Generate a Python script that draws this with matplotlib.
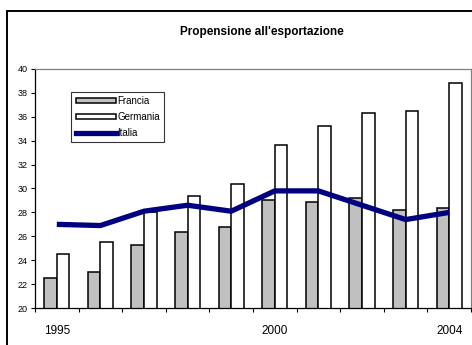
import numpy as np
import matplotlib
matplotlib.use("Agg")
import matplotlib.pyplot as plt
from matplotlib.patches import Patch, Rectangle
from matplotlib.lines import Line2D

# ==================================
# DATA
# ==================================

anni = [1995, 1996, 1997, 1998, 1999, 2000, 2001, 2002, 2003, 2004]
etichette = ["1995", "", "", "", "", "2000", "", "", "", "2004"]

francia = [22.5, 23.0, 25.3, 26.4, 26.8, 29.0, 28.9, 29.2, 28.2, 28.4]
germania = [24.5, 25.5, 28.0, 29.4, 30.4, 33.6, 35.2, 36.3, 36.5, 38.8]
italia = [27.0, 26.9, 28.1, 28.6, 28.1, 29.8, 29.8, 28.6, 27.4, 28.0]

# ==================================
# FIGURE
# ==================================

plt.rcParams['font.family'] = ['Liberation Sans', 'DejaVu Sans']

fig = plt.figure(figsize=(4.72, 3.45), dpi=100)

# outer chart frame
fig.patches.append(Rectangle((7 / 472, -0.1), 1.0, 1 - 11 / 345 + 0.1,
                             transform=fig.transFigure, fill=False,
                             edgecolor='black', linewidth=1.4))

ax = fig.add_axes([35 / 472, 1 - 308 / 345, 436 / 472, 239 / 345])

x = np.arange(len(anni))
w = 0.29

ax.bar(x - w / 2, francia, width=w, color='#c0c0c0',
       edgecolor='black', linewidth=1.1, zorder=2)
ax.bar(x + w / 2, germania, width=w, color='white',
       edgecolor='black', linewidth=1.1, zorder=2)
ax.plot(x, italia, color='#000080', linewidth=3.8,
        solid_capstyle='butt', solid_joinstyle='round', zorder=3)

# ==================================
# AXES
# ==================================

ax.set_xlim(-0.5, len(anni) - 0.5)
ax.set_ylim(20, 40)
ax.set_yticks(np.arange(20, 41, 2))
ax.tick_params(axis='y', labelsize=6.5, length=3, width=0.8, pad=2)

ax.set_xticks(x)
ax.set_xticklabels(etichette, fontsize=8.5)
ax.tick_params(axis='x', which='major', length=0, pad=12)
ax.set_xticks(np.arange(-0.5, len(anni), 1), minor=True)
ax.tick_params(axis='x', which='minor', length=3, width=0.8)

for side in ['top', 'right']:
    ax.spines[side].set_color('#808080')
    ax.spines[side].set_linewidth(0.9)
for side in ['left', 'bottom']:
    ax.spines[side].set_linewidth(0.9)

# ==================================
# TITLE
# ==================================

fig.text(262 / 472, 1 - 32 / 345, "Propensione all'esportazione",
         ha='center', va='center', fontsize=8.5, fontweight='bold')

# ==================================
# LEGEND
# ==================================

handles = [
    Patch(facecolor='#c0c0c0', edgecolor='black', linewidth=1.1),
    Patch(facecolor='white', edgecolor='black', linewidth=1.1),
    Line2D([0], [0], color='#000080', linewidth=3.8),
]
leg = ax.legend(handles, ['Francia', 'Germania', 'Italia'],
                loc='upper left', bbox_to_anchor=(0.083, 0.905),
                fontsize=7, handlelength=4.2, handleheight=0.4,
                handletextpad=0.1, labelspacing=0.6,
                borderpad=0.45, borderaxespad=0,
                frameon=True, fancybox=False)
leg.get_frame().set_edgecolor('black')
leg.get_frame().set_linewidth(0.8)

plt.savefig("out.png", dpi=100)
